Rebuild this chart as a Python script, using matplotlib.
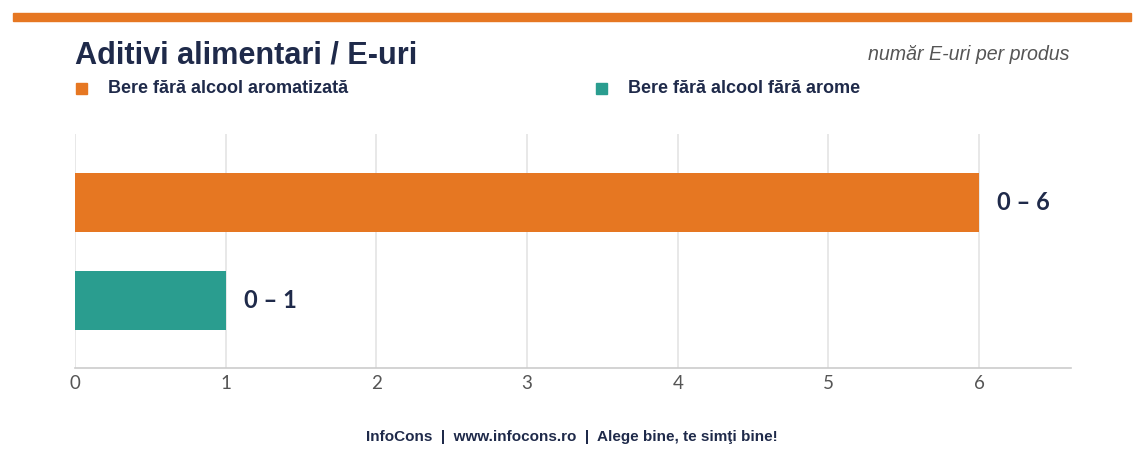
import matplotlib
matplotlib.use("Agg")
import matplotlib.pyplot as plt
from matplotlib.patches import Rectangle

categories = ["Bere fără alcool aromatizată", "Bere fără alcool fără arome"]
max_values = [6, 1]
value_labels = ["0 – 6", "0 – 1"]
colors = ["#e67722", "#2a9d8f"]
xticks = [0, 1, 2, 3, 4, 5, 6]

NAVY = "#1f2a4a"
W, H = 1143, 457

fig = plt.figure(figsize=(W / 100, H / 100), dpi=100)

# orange strip on top
fig.patches.append(Rectangle((13 / W, 1 - 21 / H), (1131 - 13) / W, 8 / H,
                             transform=fig.transFigure, color="#e67722", zorder=0))

fig.text(75 / W, 1 - 63 / H, "Aditivi alimentari / E-uri", fontsize=22.1,
         fontweight="bold", color=NAVY, family="Liberation Sans", va="baseline")
fig.text(1069 / W, 1 - 60 / H, "număr E-uri per produs", fontsize=14.15,
         style="italic", color="#555555", family="Liberation Sans",
         ha="right", va="baseline")

# legend
legend_x = [76, 596]
for i, cat in enumerate(categories):
    fig.patches.append(Rectangle((legend_x[i] / W, 1 - 94 / H), 11 / W, 11 / H,
                                 transform=fig.transFigure, color=colors[i]))
    fig.text((legend_x[i] + 32) / W, 1 - 93 / H, cat, fontsize=13,
             fontweight="bold", color=NAVY, family="Liberation Sans",
             va="baseline")

ax = fig.add_axes([75 / W, 1 - 368 / H, (1071 - 75) / W, (368 - 134) / H])
y = list(range(len(categories)))
ax.barh(y, max_values, height=0.6, color=colors, zorder=3)
for yi, v, lab in zip(y, max_values, value_labels):
    ax.text(v + 0.12, yi, lab, va="center", ha="left", fontsize=17,
            fontweight="bold", color=NAVY, family="Lato")

ax.set_xlim(0, 6.61)
ax.set_ylim(1.685, -0.695)
ax.set_xticks(xticks)
ax.set_yticks([])
ax.grid(axis="x", color="#e4e4e4", linewidth=1.2, zorder=0)
ax.tick_params(axis="x", length=0, pad=5, labelsize=13.5, labelcolor="#555555")
for lab in ax.get_xticklabels():
    lab.set_family("Lato")
for s in ["top", "right", "left"]:
    ax.spines[s].set_visible(False)
ax.spines["bottom"].set_color("#cccccc")
ax.spines["bottom"].set_linewidth(1.2)

fig.text(572 / W, 1 - 441 / H,
         "InfoCons  |  www.infocons.ro  |  Alege bine, te simţi bine!",
         fontsize=11.0, fontweight="bold", color=NAVY, family="Liberation Sans",
         ha="center", va="baseline")

fig.savefig("out.png", dpi=100, facecolor="white")
